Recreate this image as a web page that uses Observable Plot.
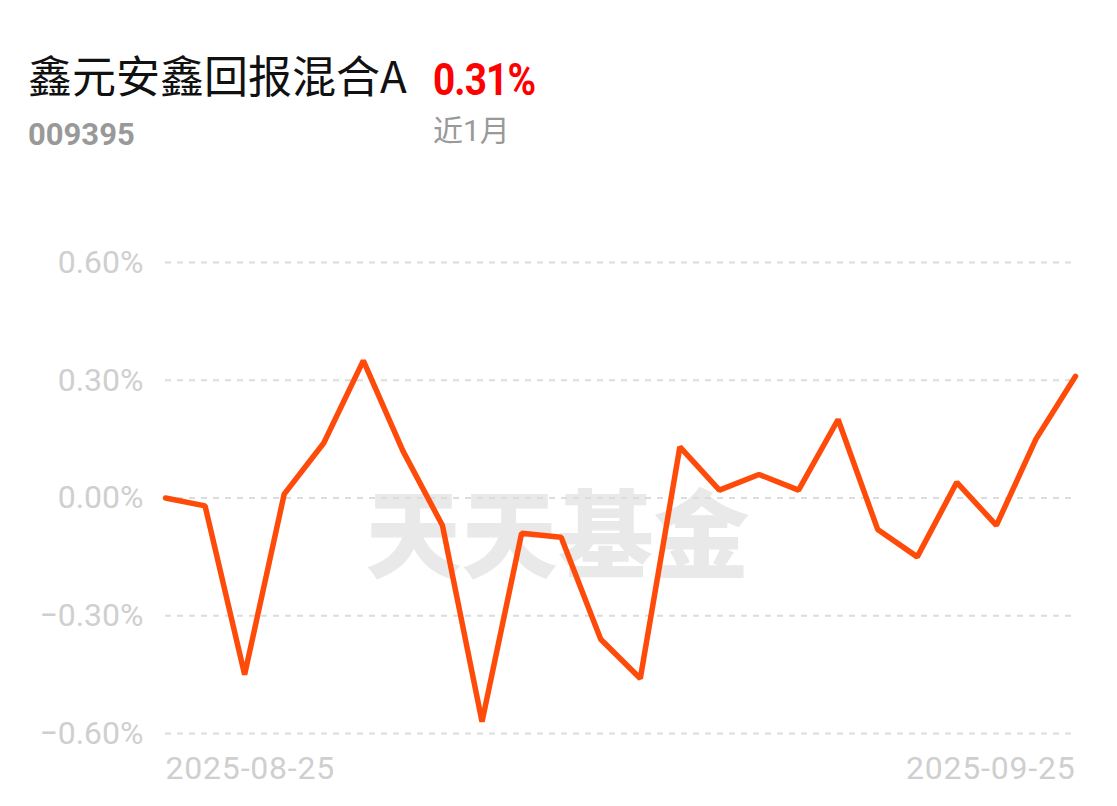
<!DOCTYPE html>
<html>
<head>
<meta charset="utf-8">
<script src="https://cdn.jsdelivr.net/npm/d3@7"></script>
<script src="https://cdn.jsdelivr.net/npm/@observablehq/plot@0.6"></script>
<style>
  html, body { margin: 0; padding: 0; background: #fff; }
  #page { position: relative; width: 1117px; height: 806px; overflow: hidden; }
  .t { position: absolute; line-height: 1; white-space: nowrap; }
  #title { left: 28px; top: 52px; font-size: 44px; color: #111; font-family: "Noto Sans CJK SC", Roboto, sans-serif; }
  #pct { left: 433px; top: 57px; font-size: 45px; font-weight: 700; color: #f00; font-family: Roboto, sans-serif; letter-spacing: -1px; transform: scaleX(0.86); transform-origin: 0 0; }
  #code { left: 28px; top: 119px; font-size: 31px; font-weight: 700; color: #999; font-family: Roboto, sans-serif; }
  #period { left: 433px; top: 116px; font-size: 30px; color: #999; font-family: Roboto, "Noto Sans CJK SC", sans-serif; }
  #chart { position: absolute; left: 0; top: 200px; }
  #chart svg { display: block; }
  #chart svg g[aria-label="x-axis tick label"] text { letter-spacing: 0.8px; }
</style>
</head>
<body>
<div id="page">
  <div class="t" id="title"></div>
  <div class="t" id="pct"></div>
  <div class="t" id="code"></div>
  <div class="t" id="period"></div>
  <div id="chart"></div>
</div>
<script>
const fundName = "鑫元安鑫回报混合A";
const fundCode = "009395";
const periodLabel = "近1月";
const periodReturn = "0.31%";
const watermark = "天天基金";

const dates = [
  "2025-08-25","2025-08-26","2025-08-27","2025-08-28","2025-08-29",
  "2025-09-01","2025-09-02","2025-09-03","2025-09-04","2025-09-05",
  "2025-09-08","2025-09-09","2025-09-10","2025-09-11","2025-09-12",
  "2025-09-15","2025-09-16","2025-09-17","2025-09-18","2025-09-19",
  "2025-09-22","2025-09-23","2025-09-24","2025-09-25"
];
const returns = [
  0.00, -0.02, -0.45, 0.01, 0.14,
  0.35, 0.12, -0.07, -0.57, -0.09,
  -0.10, -0.36, -0.46, 0.13, 0.02,
  0.06, 0.02, 0.20, -0.08, -0.15,
  0.04, -0.07, 0.15, 0.31
];
const yTicks = [-0.6, -0.3, 0, 0.3, 0.6];
const xTickLabels = ["2025-08-25", "2025-09-25"];

document.getElementById("title").textContent = fundName;
document.getElementById("pct").textContent = periodReturn;
document.getElementById("code").textContent = fundCode;
document.getElementById("period").textContent = periodLabel;

const data = dates.map((d, i) => ({date: d, value: returns[i]}));
const fmt = d => (d < 0 ? "\u2212" : "") + Math.abs(d).toFixed(2) + "%";

const chart = Plot.plot({
  width: 1117,
  height: 606,
  marginTop: 62,
  marginBottom: 73,
  marginLeft: 165,
  marginRight: 42,
  style: {fontFamily: "Roboto, sans-serif", background: "#fff", overflow: "visible"},
  x: {type: "point", domain: dates, padding: 0, round: false},
  y: {domain: [-0.6, 0.6]},
  marks: [
    Plot.text([watermark], {frameAnchor: "middle", dx: -63, dy: 41, fontSize: 96, fontWeight: 900, fill: "#e9e9e9", fontFamily: "Noto Sans CJK SC"}),
    Plot.gridY(yTicks, {stroke: "#dcdcdc", strokeOpacity: 1, strokeWidth: 2, strokeDasharray: "6,6"}),
    Plot.axisY(yTicks, {tickSize: 0, tickPadding: 22, tickFormat: fmt, fontSize: 32, fill: "#cfcfcf", label: null}),
    Plot.axisX([xTickLabels[0]], {tickSize: 0, tickPadding: 23, fontSize: 32, fill: "#cfcfcf", textAnchor: "start", label: null}),
    Plot.axisX([xTickLabels[1]], {tickSize: 0, tickPadding: 23, fontSize: 32, fill: "#cfcfcf", textAnchor: "end", label: null}),
    Plot.line(data, {x: "date", y: "value", stroke: "#ff4b0a", strokeWidth: 5.5, strokeLinejoin: "miter", strokeLinecap: "round"})
  ]
});
document.getElementById("chart").appendChild(chart);
</script>
</body>
</html>
